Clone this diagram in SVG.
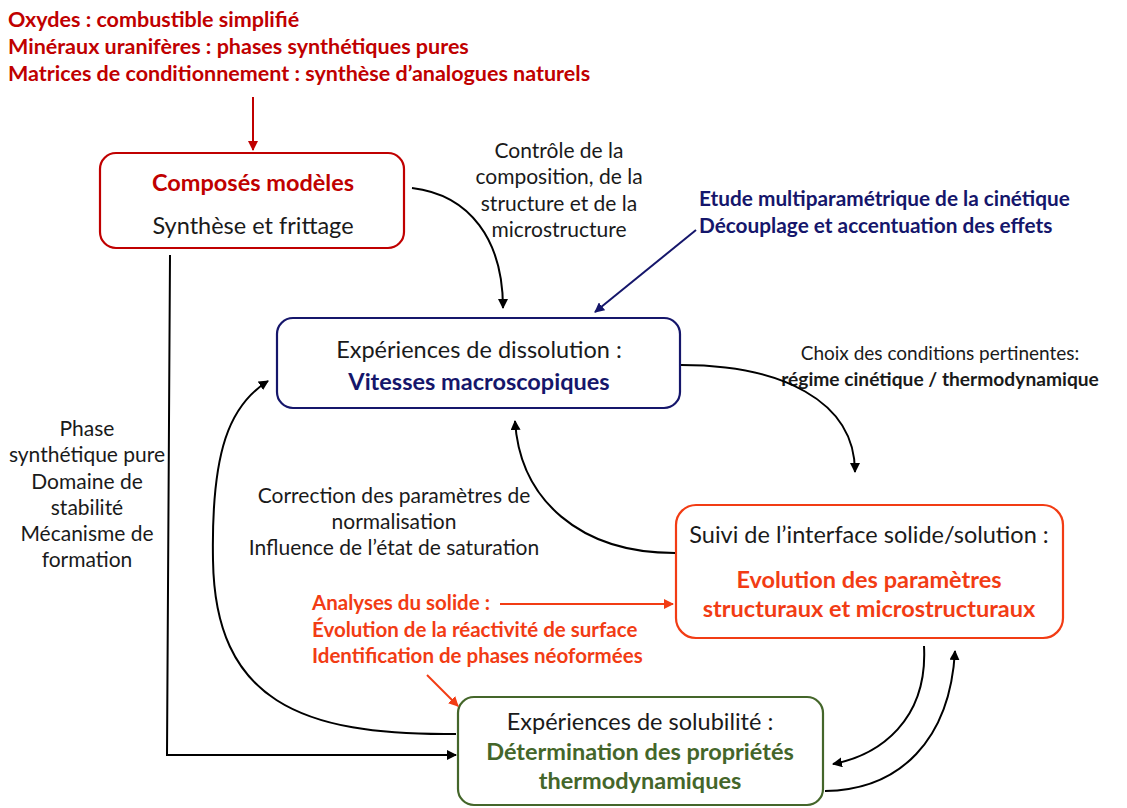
<svg xmlns="http://www.w3.org/2000/svg" width="1127" height="808" viewBox="0 0 1127 808">
<style>
text{font-family:Lato,"Open Sans","Liberation Sans",sans-serif;fill:#1a1a1a}
.b{font-weight:bold}
.red{fill:#c00000}
.navy{fill:#15166b}
.org{fill:#f23c14}
.grn{fill:#44662a}
.m{text-anchor:middle}
.t{font-size:21px}
.bx{font-size:23.5px}
.box{fill:#fff;stroke-width:2.2}
.con{fill:none;stroke:#000;stroke-width:2}
</style>
<defs>
<marker id="ak" viewBox="0 0 10 10" refX="9" refY="5" markerWidth="5" markerHeight="5" orient="auto"><path d="M0,0L10,5L0,10z" fill="#000"/></marker>
<marker id="ar" viewBox="0 0 10 10" refX="9" refY="5" markerWidth="5" markerHeight="5" orient="auto"><path d="M0,0L10,5L0,10z" fill="#c00000"/></marker>
<marker id="an" viewBox="0 0 10 10" refX="9" refY="5" markerWidth="5" markerHeight="5" orient="auto"><path d="M0,0L10,5L0,10z" fill="#15166b"/></marker>
<marker id="ao" viewBox="0 0 10 10" refX="9" refY="5" markerWidth="5" markerHeight="5" orient="auto"><path d="M0,0L10,5L0,10z" fill="#f23c14"/></marker>
</defs>
<rect width="1127" height="808" fill="#fff"/>

<g id="labels">
<text class="b red" font-size="21.5" x="8" y="27">Oxydes : combustible simplifié</text>
<text class="b red" font-size="21.5" x="8" y="54">Minéraux uranifères : phases synthétiques pures</text>
<text class="b red" font-size="21.5" x="8" y="81">Matrices de conditionnement : synthèse d’analogues naturels</text>
<text class="t m" x="559" y="158">Contrôle de la</text>
<text class="t m" x="559" y="184">composition, de la</text>
<text class="t m" x="559" y="211">structure et de la</text>
<text class="t m" x="559" y="237">microstructure</text>
<text class="b navy" font-size="20.8" x="699" y="206">Etude multiparamétrique de la cinétique</text>
<text class="b navy" font-size="20.8" x="699" y="233">Découplage et accentuation des effets</text>
<text class="m" font-size="19" x="940" y="360">Choix des conditions pertinentes:</text>
<text class="b m" font-size="19.2" x="940" y="386">régime cinétique / thermodynamique</text>
<text class="t m" x="87" y="436">Phase</text>
<text class="t m" x="87" y="462">synthétique pure</text>
<text class="t m" x="87" y="489">Domaine de</text>
<text class="t m" x="87" y="515">stabilité</text>
<text class="t m" x="87" y="541">Mécanisme de</text>
<text class="t m" x="87" y="567">formation</text>
<text class="t m" x="394" y="503">Correction des paramètres de</text>
<text class="t m" x="394" y="529">normalisation</text>
<text class="t m" x="394" y="555">Influence de l’état de saturation</text>
<text class="b org" font-size="20.5" x="312" y="610">Analyses du solide :</text>
<text class="b org" font-size="20.5" x="312" y="637">Évolution de la réactivité de surface</text>
<text class="b org" font-size="20.5" x="312" y="663">Identification de phases néoformées</text>
</g>

<g id="n-composes">
<rect class="box" x="100" y="153" width="304" height="95" rx="16" stroke="#c00000"/>
<text class="b red bx m" x="253" y="191">Composés modèles</text>
<text class="bx m" x="253" y="234">Synthèse et frittage</text>
</g>

<g id="n-dissolution">
<rect class="box" x="277" y="318" width="403" height="90" rx="16" stroke="#15166b"/>
<text class="bx m" x="479" y="358">Expériences de dissolution :</text>
<text class="b navy bx m" x="479" y="390">Vitesses macroscopiques</text>
</g>

<g id="n-suivi">
<rect class="box" x="676" y="505" width="387" height="133" rx="20" stroke="#f23c14"/>
<text class="bx m" x="869" y="543">Suivi de l’interface solide/solution :</text>
<text class="b org bx m" x="869" y="588">Evolution des paramètres</text>
<text class="b org bx m" x="869" y="617">structuraux et microstructuraux</text>
</g>

<g id="n-solubilite">
<rect class="box" x="458" y="697" width="365" height="108" rx="16" stroke="#44662a"/>
<text class="bx m" x="640" y="730">Expériences de solubilité :</text>
<text class="b grn bx m" x="640" y="760">Détermination des propriétés</text>
<text class="b grn bx m" x="640" y="789">thermodynamiques</text>
</g>

<g id="connectors">
<path d="M253,97 L253,150" fill="none" stroke="#c00000" stroke-width="2" marker-end="url(#ar)"/>
<path class="con" d="M412,188 C470,195 503,240 503,308" marker-end="url(#ak)"/>
<path d="M696,230 L595,312" fill="none" stroke="#15166b" stroke-width="2" marker-end="url(#an)"/>
<path class="con" d="M681,365 C780,365 855,400 855,472" marker-end="url(#ak)"/>
<path class="con" d="M675,553 C580,553 520,500 515,421" marker-end="url(#ak)"/>
<path class="con" d="M170,255 L167,755 L456,755" marker-end="url(#ak)"/>
<path class="con" d="M456,734 C300,736 215,700 213,560 C211,450 230,405 268,381" marker-end="url(#ak)"/>
<path d="M500,604 L673,604" fill="none" stroke="#f23c14" stroke-width="2" marker-end="url(#ao)"/>
<path d="M427,675 L458,706" fill="none" stroke="#f23c14" stroke-width="2" marker-end="url(#ao)"/>
<path class="con" d="M924,646 C928,720 880,755 833,764" marker-end="url(#ak)"/>
<path class="con" d="M825,791 C900,790 950,740 955,651" marker-end="url(#ak)"/>
</g>
</svg>
